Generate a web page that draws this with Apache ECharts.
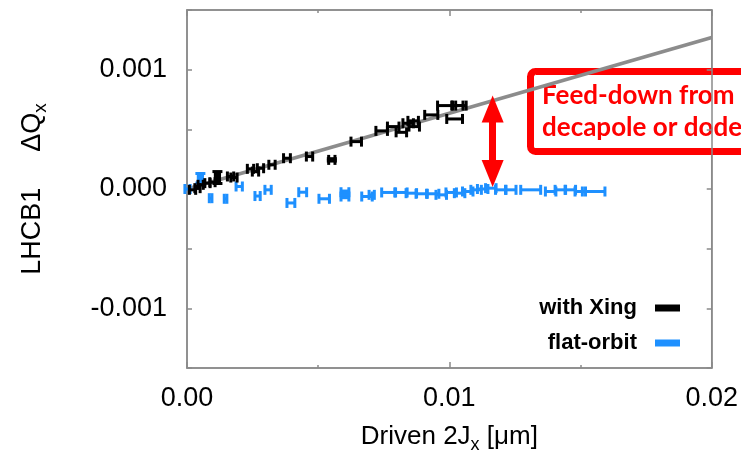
<!DOCTYPE html>
<html>
<head>
<meta charset="utf-8">
<script src="https://cdn.jsdelivr.net/npm/echarts@6/dist/echarts.min.js"></script>
<style>html,body{margin:0;padding:0;background:#fff;}#c{width:741px;height:459px;}</style>
</head>
<body>
<div id="c"></div>
<script>
// ---- data ----
const xTicks = [0, 0.01, 0.02];
const yTicks = [-0.001, 0, 0.001];

// "with Xing" (black): x, y, x-error, y-error
const xWith    = [0.00021, 0.0004, 0.00052, 0.00078, 0.00097, 0.00116, 0.00166, 0.00179, 0.00242, 0.00261, 0.0028, 0.00324, 0.00381, 0.00467, 0.00552, 0.00645, 0.00742, 0.00786, 0.00817, 0.00843, 0.00862, 0.00866, 0.00931, 0.00982, 0.01032, 0.0102, 0.01044];
const yWith    = [-0.000007, 0.000007, 0.000035, 0.000049, 0.000057, 0.000096, 0.000105, 0.000096, 0.000169, 0.000146, 0.000174, 0.000203, 0.000258, 0.000272, 0.000244, 0.000397, 0.000487, 0.000523, 0.000475, 0.000551, 0.000571, 0.000523, 0.000621, 0.000699, 0.000699, 0.000587, 0.000699];
const xErrWith = [0.00012, 0.0001, 0.0001, 0.0001, 0.0001, 0.00008, 0.00012, 0.00012, 0.00012, 0.00012, 0.00012, 0.00012, 0.00013, 0.00012, 0.00012, 0.0002, 0.00022, 0.00022, 0.0002, 0.0002, 0.0002, 0.0002, 0.00025, 0.00027, 0.0002, 0.0003, 0.0002];
const yErrWith = [0, 0, 0, 0, 0, 0.00005, 0, 0, 0, 0, 0, 0, 0, 0, 0.00001, 0, 0, 0, 0, 0, 0, 0, 0, 0, 0, 0, 0];

// "flat-orbit" (blue)
const xFlat    = [0.00002, 0.00051, 0.0009, 0.00147, 0.00199, 0.00269, 0.00309, 0.00396, 0.00441, 0.00523, 0.00602, 0.00602, 0.00686, 0.00704, 0.00767, 0.00817, 0.00855, 0.00893, 0.00938, 0.00969, 0.01007, 0.01039, 0.0107, 0.01102, 0.01127, 0.01158, 0.01196, 0.01234, 0.0131, 0.01386, 0.01423, 0.01461, 0.01499, 0.0155];
const yFlat    = [0, 0.00009, -0.000077, -0.000082, 0.000021, -0.000059, -0.000007, -0.000117, -0.000027, -0.000082, -0.000027, -0.000063, -0.000063, -0.000049, -0.000029, -0.000029, -0.000035, -0.00004, -0.00004, -0.000049, -0.000029, -0.000035, -0.000021, -0.000007, 0, 0.000007, -0.000007, -0.000007, -0.000007, -0.000021, -0.000007, -0.000007, -0.000021, -0.000021];
const xErrFlat = [0.0001, 0.00008, 0.00005, 0.00005, 0.00012, 0.0001, 0.00012, 0.00015, 0.00015, 0.0002, 0.00015, 0.00015, 0.0002, 0.0001, 0.00025, 0.00022, 0.0002, 0.0002, 0.00022, 0.0002, 0.0002, 0.0002, 0.0002, 0.0002, 0.0002, 0.0002, 0.0002, 0.0002, 0.00038, 0.0002, 0.0002, 0.0002, 0.0002, 0.00043];
const yErrFlat = [0, 0.00004, 0, 0, 0, 0, 0, 0, 0, 0, 0.00001, 0.00001, 0, 0, 0, 0, 0, 0, 0, 0, 0, 0, 0, 0, 0, 0, 0, 0, 0, 0, 0, 0, 0, 0];

// linear fit through the "with Xing" points
const fitX = [0, 0.02];
const fitY = [0, 0.00127];

// feed-down arrow (data coordinates)
const arrowX = 0.01165;
const arrowTop = 0.00067;
const arrowBottom = 0.00013;

const seriesNames = ['with Xing', 'flat-orbit'];
const seriesColors = ['#000000', '#1e90ff'];

// ---- chart ----
const FONT = 'Liberation Sans, Arial, sans-serif';
const AXIS_COLOR = '#8a8a8a';

function zip(xs, ys, xe, ye) { return xs.map((x, i) => [x, ys[i], xe[i], ye[i]]); }

function errRender(color) {
  return function (params, api) {
    const x = api.value(0), y = api.value(1), xe = api.value(2), ye = api.value(3);
    const L = api.coord([x - xe, y]), R = api.coord([x + xe, y]);
    const st = { stroke: color, lineWidth: 3 };
    const ch = [
      { type: 'line', shape: { x1: L[0], y1: L[1], x2: R[0], y2: R[1] }, style: st },
      { type: 'line', shape: { x1: L[0], y1: L[1] - 5, x2: L[0], y2: L[1] + 5 }, style: st },
      { type: 'line', shape: { x1: R[0], y1: R[1] - 5, x2: R[0], y2: R[1] + 5 }, style: st }
    ];
    if (ye > 0) {
      const T = api.coord([x, y + ye]), B = api.coord([x, y - ye]);
      ch.push({ type: 'line', shape: { x1: T[0], y1: T[1], x2: B[0], y2: B[1] }, style: st });
      ch.push({ type: 'line', shape: { x1: T[0] - 5, y1: T[1], x2: T[0] + 5, y2: T[1] }, style: st });
      ch.push({ type: 'line', shape: { x1: B[0] - 5, y1: B[1], x2: B[0] + 5, y2: B[1] }, style: st });
    }
    return { type: 'group', children: ch };
  };
}

const tickLabelStyle = { color: '#000', fontFamily: FONT, fontSize: 27 };

function xAxisCfg(pos, labels) {
  return {
    type: 'value', position: pos, min: 0, max: 0.02, interval: 0.01,
    axisLine: { show: true, onZero: false, lineStyle: { color: AXIS_COLOR, width: 1.5 } },
    axisTick: { show: true, inside: true, length: 6, lineStyle: { color: AXIS_COLOR, width: 1.5 } },
    minorTick: { show: true, splitNumber: 2, length: 3, lineStyle: { color: AXIS_COLOR, width: 1.5 } },
    splitLine: { show: false }, minorSplitLine: { show: false },
    axisLabel: labels ? Object.assign({ show: true, margin: 17, formatter: v => v.toFixed(2) }, tickLabelStyle) : { show: false }
  };
}

function yAxisCfg(pos, labels) {
  return {
    type: 'value', position: pos, min: -0.0015, max: 0.0015, interval: 0.0005,
    axisLine: { show: true, onZero: false, lineStyle: { color: AXIS_COLOR, width: 1.5 } },
    axisTick: { show: true, inside: true, length: 5, lineStyle: { color: AXIS_COLOR, width: 1.5 } },
    splitLine: { show: false },
    axisLabel: labels ? Object.assign({
      show: true, margin: 20,
      formatter: v => {
        const k = v * 1000;
        return Math.abs(k - Math.round(k)) < 1e-6 ? (Math.round(k) / 1000).toFixed(3) : '';
      }
    }, tickLabelStyle) : { show: false }
  };
}

const yLeft = yAxisCfg('left', true);
yLeft.name = '{a|LHCB1}{g|}{a|ΔQ}{s|x}';
yLeft.nameLocation = 'middle';
yLeft.nameRotate = 90;
yLeft.nameGap = 137;
yLeft.nameTextStyle = {
  rich: {
    a: { fontFamily: FONT, fontSize: 27, color: '#000', lineHeight: 34 },
    g: { width: 36 },
    s: { fontFamily: FONT, fontSize: 19, color: '#000', lineHeight: 34, verticalAlign: 'bottom' }
  }
};

const xBottom = xAxisCfg('bottom', true);
xBottom.name = '{a|Driven 2J}{s|x}{a| [μm]}';
xBottom.nameLocation = 'middle';
xBottom.nameGap = 52;
xBottom.nameTextStyle = {
  rich: {
    a: { fontFamily: FONT, fontSize: 26, color: '#000', lineHeight: 34 },
    s: { fontFamily: FONT, fontSize: 18, color: '#000', lineHeight: 34, verticalAlign: 'bottom' }
  }
};

const chart = echarts.init(document.getElementById('c'), null, { renderer: 'canvas' });
chart.setOption({
  animation: false,
  backgroundColor: '#fff',
  grid: { left: 187, top: 10, width: 528, height: 358, show: true, borderColor: AXIS_COLOR, borderWidth: 1.5 },
  xAxis: [xBottom, xAxisCfg('top', false)],
  yAxis: [yLeft, yAxisCfg('right', false)],
  legend: [
    {
      data: [{ name: seriesNames[0], itemStyle: { color: seriesColors[0] } }],
      right: 61, top: 297, padding: 0, icon: 'rect', itemWidth: 25, itemHeight: 7, align: 'right',
      selectedMode: false,
      textStyle: { fontFamily: FONT, fontSize: 22, fontWeight: 'bold', color: '#000', padding: [0, 13, 0, 0] }
    },
    {
      data: [{ name: seriesNames[1], itemStyle: { color: seriesColors[1] } }],
      right: 61, top: 332, padding: 0, icon: 'rect', itemWidth: 25, itemHeight: 7, align: 'right',
      selectedMode: false,
      textStyle: { fontFamily: FONT, fontSize: 22, fontWeight: 'bold', color: '#000', padding: [0, 13, 0, 0] }
    }
  ],
  series: [
    {
      name: 'fit', type: 'line', data: fitX.map((x, i) => [x, fitY[i]]),
      symbol: 'none', silent: true, z: 1,
      lineStyle: { color: '#8c8c8c', width: 3.5 },
      markLine: {
        silent: true, symbol: ['triangle', 'triangle'], symbolSize: [22, 27],
        label: { show: false },
        lineStyle: { color: '#ff0000', width: 7, type: 'solid' },
        data: [[{ coord: [arrowX, arrowTop] }, { coord: [arrowX, arrowBottom] }]]
      }
    },
    {
      name: seriesNames[1], type: 'custom', z: 3,
      itemStyle: { color: seriesColors[1] },
      renderItem: errRender(seriesColors[1]),
      encode: { x: 0, y: 1 },
      data: zip(xFlat, yFlat, xErrFlat, yErrFlat)
    },
    {
      name: seriesNames[0], type: 'custom', z: 4,
      itemStyle: { color: seriesColors[0] },
      renderItem: errRender(seriesColors[0]),
      encode: { x: 0, y: 1 },
      data: zip(xWith, yWith, xErrWith, yErrWith)
    }
  ],
  graphic: [
    {
      type: 'group', z: 100,
      children: [
        { type: 'rect', shape: { x: 530.5, y: 71.5, width: 260, height: 80, r: 5 },
          style: { fill: '#fff', stroke: '#ff0000', lineWidth: 7 } },
        { type: 'text', x: 542, y: 96,
          style: { text: 'Feed-down from', fill: '#ff0000', font: 'bold 26px Lato, Open Sans, sans-serif', verticalAlign: 'middle' } },
        { type: 'text', x: 542, y: 128,
          style: { text: 'decapole or dodecapole', fill: '#ff0000', font: 'bold 26px Lato, Open Sans, sans-serif', verticalAlign: 'middle' } }
      ]
    }
  ]
});
</script>
</body>
</html>
